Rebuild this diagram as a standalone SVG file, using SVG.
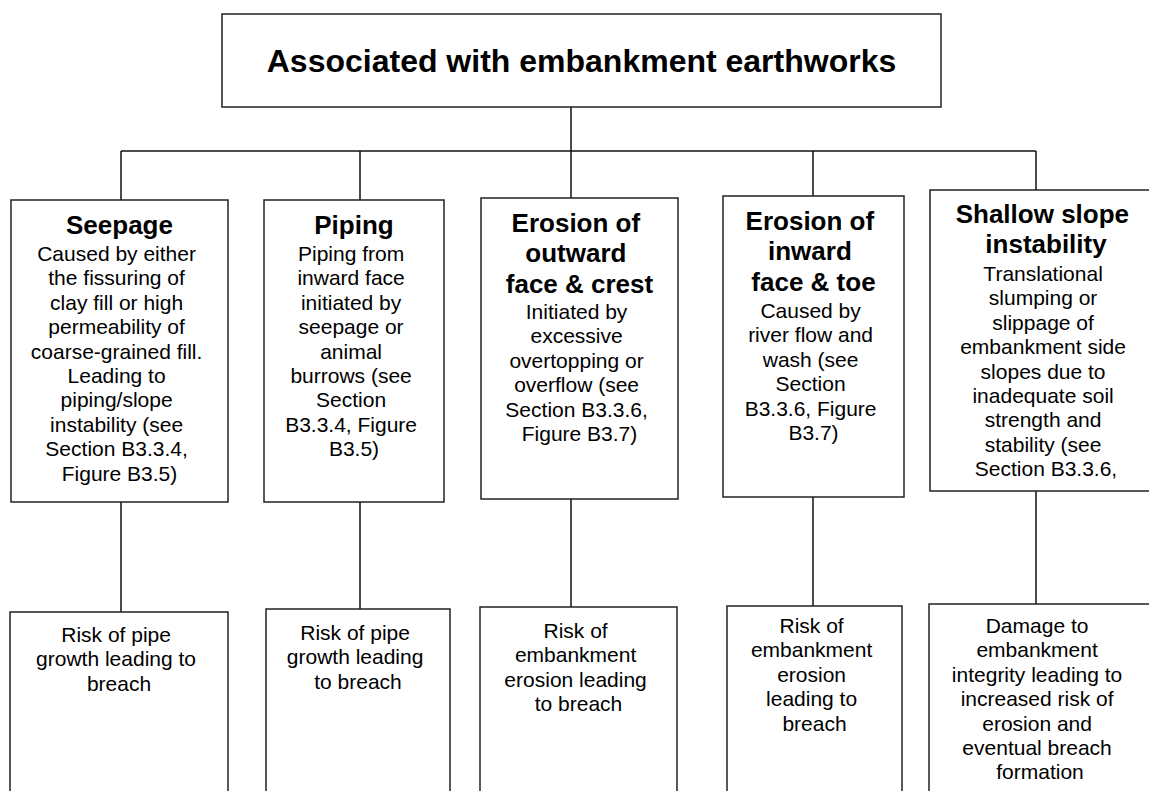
<svg xmlns="http://www.w3.org/2000/svg" width="1149" height="791" viewBox="0 0 1149 791">
  <style>
    .box { fill: #ffffff; stroke: #222222; stroke-width: 1.5; }
    .wire { fill: none; stroke: #111111; stroke-width: 1.5; }
    text { font-family: "Liberation Sans", Arial, sans-serif; fill: #000000; text-anchor: middle; }
    .head { font-size: 32px; font-weight: bold; }
    .title { font-size: 26px; font-weight: bold; }
    .body { font-size: 21px; }
  </style>
  <rect width="1149" height="791" fill="#ffffff"/>

  <!-- tree connectors -->
  <g id="connectors" class="wire">
    <path d="M571 107 V151"/>
    <path d="M121 151 H1036"/>
    <path d="M121 151 V200"/>
    <path d="M360 151 V200"/>
    <path d="M571 151 V198"/>
    <path d="M813 151 V196"/>
    <path d="M1036 151 V190"/>
    <path d="M121 502 V612"/>
    <path d="M360 502 V609"/>
    <path d="M571 499 V607"/>
    <path d="M813 497 V606"/>
    <path d="M1036 491 V604"/>
  </g>

  <!-- root -->
  <g id="root">
    <rect class="box" x="222" y="14" width="719" height="93"/>
    <text class="head" x="581.5" y="72">Associated with embankment earthworks</text>
  </g>

  <!-- mechanisms -->
  <g id="seepage">
    <rect class="box" x="11" y="200" width="217" height="302"/>
    <text class="title" x="119.5" y="234">Seepage</text>
    <text class="body" x="119.5" y="261">
      <tspan x="119.5" dy="0">Caused by either</tspan>
      <tspan x="119.5" dy="24.4">the fissuring of</tspan>
      <tspan x="119.5" dy="24.4">clay fill or high</tspan>
      <tspan x="119.5" dy="24.4">permeability of</tspan>
      <tspan x="119.5" dy="24.4">coarse-grained fill.</tspan>
      <tspan x="119.5" dy="24.4">Leading to</tspan>
      <tspan x="119.5" dy="24.4">piping/slope</tspan>
      <tspan x="119.5" dy="24.4">instability (see</tspan>
      <tspan x="119.5" dy="24.4">Section B3.3.4,</tspan>
      <tspan x="119.5" dy="24.4">Figure B3.5)</tspan>
    </text>
  </g>

  <g id="piping">
    <rect class="box" x="264" y="200" width="180" height="302"/>
    <text class="title" x="354" y="234">Piping</text>
    <text class="body" x="354" y="261">
      <tspan x="354" dy="0">Piping from</tspan>
      <tspan x="354" dy="24.4">inward face</tspan>
      <tspan x="354" dy="24.4">initiated by</tspan>
      <tspan x="354" dy="24.4">seepage or</tspan>
      <tspan x="354" dy="24.4">animal</tspan>
      <tspan x="354" dy="24.4">burrows (see</tspan>
      <tspan x="354" dy="24.4">Section</tspan>
      <tspan x="354" dy="24.4">B3.3.4, Figure</tspan>
      <tspan x="354" dy="24.4">B3.5)</tspan>
    </text>
  </g>

  <g id="erosion-outward">
    <rect class="box" x="481" y="198" width="197" height="301"/>
    <text class="title" x="579.5" y="232">
      <tspan x="579.5" dy="0">Erosion of</tspan>
      <tspan x="579.5" dy="30.3">outward</tspan>
      <tspan x="579.5" dy="30.3">face &amp; crest</tspan>
    </text>
    <text class="body" x="579.5" y="319">
      <tspan x="579.5" dy="0">Initiated by</tspan>
      <tspan x="579.5" dy="24.4">excessive</tspan>
      <tspan x="579.5" dy="24.4">overtopping or</tspan>
      <tspan x="579.5" dy="24.4">overflow (see</tspan>
      <tspan x="579.5" dy="24.4">Section B3.3.6,</tspan>
      <tspan x="579.5" dy="24.4">Figure B3.7)</tspan>
    </text>
  </g>

  <g id="erosion-inward">
    <rect class="box" x="723" y="196" width="181" height="301"/>
    <text class="title" x="813.5" y="230">
      <tspan x="813.5" dy="0">Erosion of</tspan>
      <tspan x="813.5" dy="30.3">inward</tspan>
      <tspan x="813.5" dy="30.3">face &amp; toe</tspan>
    </text>
    <text class="body" x="813.5" y="318">
      <tspan x="813.5" dy="0">Caused by</tspan>
      <tspan x="813.5" dy="24.4">river flow and</tspan>
      <tspan x="813.5" dy="24.4">wash (see</tspan>
      <tspan x="813.5" dy="24.4">Section</tspan>
      <tspan x="813.5" dy="24.4">B3.3.6, Figure</tspan>
      <tspan x="813.5" dy="24.4">B3.7)</tspan>
    </text>
  </g>

  <g id="shallow-slope">
    <rect class="box" x="930" y="190" width="232" height="301"/>
    <text class="title" x="1046" y="223">
      <tspan x="1046" dy="0">Shallow slope</tspan>
      <tspan x="1046" dy="30.3">instability</tspan>
    </text>
    <text class="body" x="1046" y="281">
      <tspan x="1046" dy="0">Translational</tspan>
      <tspan x="1046" dy="24.4">slumping or</tspan>
      <tspan x="1046" dy="24.4">slippage of</tspan>
      <tspan x="1046" dy="24.4">embankment side</tspan>
      <tspan x="1046" dy="24.4">slopes due to</tspan>
      <tspan x="1046" dy="24.4">inadequate soil</tspan>
      <tspan x="1046" dy="24.4">strength and</tspan>
      <tspan x="1046" dy="24.4">stability (see</tspan>
      <tspan x="1046" dy="24.4">Section B3.3.6,</tspan>
    </text>
  </g>

  <!-- consequences -->
  <g id="risk-seepage">
    <rect class="box" x="10" y="612" width="218" height="200"/>
    <text class="body" x="119" y="642">
      <tspan x="119" dy="0">Risk of pipe</tspan>
      <tspan x="119" dy="24.4">growth leading to</tspan>
      <tspan x="119" dy="24.4">breach</tspan>
    </text>
  </g>

  <g id="risk-piping">
    <rect class="box" x="266" y="609" width="184" height="200"/>
    <text class="body" x="358" y="640">
      <tspan x="358" dy="0">Risk of pipe</tspan>
      <tspan x="358" dy="24.4">growth leading</tspan>
      <tspan x="358" dy="24.4">to breach</tspan>
    </text>
  </g>

  <g id="risk-outward">
    <rect class="box" x="480" y="607" width="197" height="200"/>
    <text class="body" x="578.5" y="638">
      <tspan x="578.5" dy="0">Risk of</tspan>
      <tspan x="578.5" dy="24.4">embankment</tspan>
      <tspan x="578.5" dy="24.4">erosion leading</tspan>
      <tspan x="578.5" dy="24.4">to breach</tspan>
    </text>
  </g>

  <g id="risk-inward">
    <rect class="box" x="727" y="606" width="175" height="200"/>
    <text class="body" x="814.5" y="633">
      <tspan x="814.5" dy="0">Risk of</tspan>
      <tspan x="814.5" dy="24.4">embankment</tspan>
      <tspan x="814.5" dy="24.4">erosion</tspan>
      <tspan x="814.5" dy="24.4">leading to</tspan>
      <tspan x="814.5" dy="24.4">breach</tspan>
    </text>
  </g>

  <g id="damage-slope">
    <rect class="box" x="929" y="604" width="222" height="200"/>
    <text class="body" x="1040" y="633">
      <tspan x="1040" dy="0">Damage to</tspan>
      <tspan x="1040" dy="24.4">embankment</tspan>
      <tspan x="1040" dy="24.4">integrity leading to</tspan>
      <tspan x="1040" dy="24.4">increased risk of</tspan>
      <tspan x="1040" dy="24.4">erosion and</tspan>
      <tspan x="1040" dy="24.4">eventual breach</tspan>
      <tspan x="1040" dy="24.4">formation</tspan>
    </text>
  </g>
</svg>
